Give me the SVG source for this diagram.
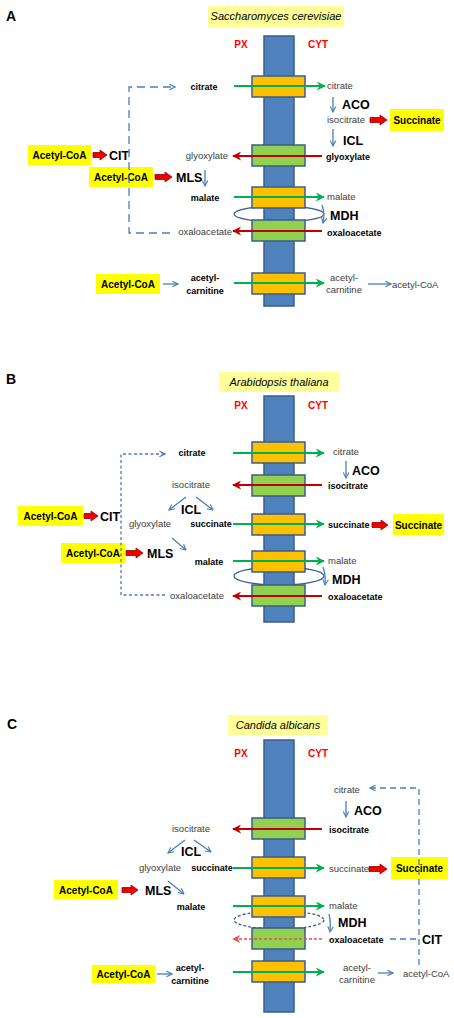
<svg xmlns="http://www.w3.org/2000/svg" width="454" height="1018" viewBox="0 0 454 1018">
<defs>
<style>
text{font-family:"Liberation Sans",Arial,sans-serif;}
.pl{font-size:14px;font-weight:bold;fill:#000;}
.ttl{font-size:11px;font-style:italic;fill:#000;text-anchor:middle;}
.tbox{fill:#FFFF99;}
.cmp{font-size:10px;font-weight:bold;fill:#FF0000;text-anchor:middle;}
.bar{fill:#4F81BD;stroke:#385D8A;stroke-width:1.5;}
.ob{fill:#FFC000;stroke:#385D8A;stroke-width:1.5;}
.gb{fill:#92D050;stroke:#385D8A;stroke-width:1.5;}
.n{font-size:9.5px;fill:#404040;}
.b{font-size:9px;font-weight:bold;fill:#000;}
.enz{font-size:12.5px;font-weight:bold;fill:#000;}
.ybox{fill:#FFFF00;}
.yt{font-size:10px;font-weight:bold;fill:#000;text-anchor:middle;}
.m{text-anchor:middle;}
.e{text-anchor:end;}
.ga{stroke:#00B050;stroke-width:2;fill:none;marker-end:url(#ag);}
.ra{stroke:#C00000;stroke-width:2;fill:none;marker-end:url(#ar);}
.rd{stroke:#E85050;stroke-width:1.5;fill:none;stroke-dasharray:3,2;marker-end:url(#ar2);}
.ba{stroke:#4A7EBB;stroke-width:1.3;fill:none;marker-end:url(#ab);}
.bl{stroke:#4A7EBB;stroke-width:1.3;fill:none;}
.blk{fill:#EE0000;stroke:#A00000;stroke-width:0.8;}
.ell{fill:none;stroke:#385D8A;stroke-width:1.3;}
</style>
<marker id="ag" viewBox="0 0 10 10" refX="9" refY="5" markerWidth="9" markerHeight="9" markerUnits="userSpaceOnUse" orient="auto"><path d="M0,0 L10,5 L0,10 L3,5 z" fill="#00B050"/></marker>
<marker id="ar" viewBox="0 0 10 10" refX="9" refY="5" markerWidth="9" markerHeight="9" markerUnits="userSpaceOnUse" orient="auto"><path d="M0,0 L10,5 L0,10 L3,5 z" fill="#C00000"/></marker>
<marker id="ar2" viewBox="0 0 10 10" refX="9" refY="5" markerWidth="8" markerHeight="8" markerUnits="userSpaceOnUse" orient="auto"><path d="M0,0 L10,5 L0,10 L3,5 z" fill="#E85050"/></marker>
<marker id="ab" viewBox="0 0 10 10" refX="9" refY="5" markerWidth="7" markerHeight="7" markerUnits="userSpaceOnUse" orient="auto"><path d="M1,1 L9,5 L1,9" fill="none" stroke="#4A7EBB" stroke-width="1.6"/></marker>
</defs>
<rect width="454" height="1018" fill="#fff"/>

<!-- ===================== PANEL A ===================== -->
<g id="panelA">
<text class="pl" x="6" y="21">A</text>
<g id="A-title"><rect class="tbox" x="208" y="6" width="136" height="21"/><text class="ttl" x="276" y="20">Saccharomyces cerevisiae</text></g>
<text class="cmp" x="241" y="48">PX</text>
<text class="cmp" x="318" y="48">CYT</text>
<ellipse class="ell" cx="279" cy="214" rx="45" ry="8"/>
<g id="A-membrane"><rect class="bar" x="264" y="36" width="30" height="270"/></g>
<g id="A-t1"><rect class="ob" x="252" y="76" width="53" height="21"/></g>
<g id="A-t2"><rect class="gb" x="252" y="145" width="53" height="21"/></g>
<g id="A-t3"><rect class="ob" x="252" y="187" width="53" height="21"/></g>
<g id="A-t4"><rect class="gb" x="252" y="220" width="53" height="21"/></g>
<g id="A-t5"><rect class="ob" x="252" y="273" width="53" height="21"/></g>

<g id="A-labels">
<text class="b m" x="204" y="90">citrate</text>
<text class="n" x="327" y="89">citrate</text>
<text class="enz" x="342" y="109">ACO</text>
<text class="n" x="327" y="123">isocitrate</text>
<g id="A-succ"><rect class="ybox" x="390" y="109" width="54" height="22"/><text class="yt" x="417" y="124">Succinate</text></g>
<text class="enz" x="343" y="145">ICL</text>
<text class="b" x="326" y="160">glyoxylate</text>
<text class="n e" x="228" y="159">glyoxylate</text>
<g id="A-acoa1"><rect class="ybox" x="28" y="145" width="63" height="20"/><text class="yt" x="59.5" y="159">Acetyl-CoA</text></g>
<text class="enz" x="109" y="160">CIT</text>
<g id="A-acoa2"><rect class="ybox" x="89" y="167" width="64" height="20"/><text class="yt" x="121" y="181">Acetyl-CoA</text></g>
<text class="enz" x="176" y="182">MLS</text>
<text class="b m" x="205" y="201">malate</text>
<text class="n" x="327" y="200">malate</text>
<text class="enz" x="330" y="220">MDH</text>
<text class="n e" x="232" y="235">oxaloacetate</text>
<text class="b" x="327" y="236">oxaloacetate</text>
<g id="A-acoa3"><rect class="ybox" x="96" y="274" width="64" height="20"/><text class="yt" x="128" y="288">Acetyl-CoA</text></g>
<text class="b m" x="205" y="281">acetyl-</text>
<text class="b m" x="205" y="294">carnitine</text>
<text class="n m" x="344" y="281">acetyl-</text>
<text class="n m" x="344" y="293">carnitine</text>
<text class="n" x="392" y="288">acetyl-CoA</text>
</g>

<g id="A-connectors">
<line class="ga" x1="234" y1="86" x2="325" y2="86"/>
<line class="ra" x1="322" y1="156" x2="233" y2="156"/>
<line class="ga" x1="234" y1="197" x2="324" y2="197"/>
<line class="ra" x1="322" y1="231" x2="233" y2="231"/>
<line class="ga" x1="234" y1="283" x2="324" y2="283"/>
<line class="ba" x1="333" y1="97" x2="333" y2="112"/>
<line class="ba" x1="333" y1="129" x2="333" y2="146"/>
<line class="ba" x1="205" y1="170" x2="205" y2="186"/>
<path class="ba" d="M322,205 Q325,213 323,223"/>
<line class="ba" x1="163" y1="284" x2="178" y2="284"/>
<line class="ba" x1="368" y1="284" x2="391" y2="284"/>
<path class="ba" d="M170,233 H129 V87 H175" stroke-dasharray="8,5"/>
<polygon class="blk" points="370,117.5 380,117.5 380,115 387,120 380,125 380,122.5 370,122.5"/>
<polygon class="blk" points="93,152.5 100,152.5 100,150 107,155 100,160 100,157.5 93,157.5"/>
<polygon class="blk" points="155,174.5 165,174.5 165,172 172,177 165,182 165,179.5 155,179.5"/>
</g>
</g>

<!-- ===================== PANEL B ===================== -->
<g id="panelB">
<text class="pl" x="6" y="384">B</text>
<g id="B-title"><rect class="tbox" x="219" y="372" width="120" height="20"/><text class="ttl" x="279" y="386">Arabidopsis thaliana</text></g>
<text class="cmp" x="241" y="409">PX</text>
<text class="cmp" x="318" y="409">CYT</text>
<ellipse class="ell" cx="279" cy="576" rx="45" ry="9"/>
<g id="B-membrane"><rect class="bar" x="264" y="396" width="30" height="226"/></g>
<g id="B-t1"><rect class="ob" x="252" y="442" width="53" height="21"/></g>
<g id="B-t2"><rect class="gb" x="252" y="475" width="53" height="21"/></g>
<g id="B-t3"><rect class="ob" x="252" y="514" width="53" height="21"/></g>
<g id="B-t4"><rect class="ob" x="252" y="551" width="53" height="21"/></g>
<g id="B-t5"><rect class="gb" x="252" y="585" width="53" height="21"/></g>

<g id="B-labels">
<text class="b m" x="192" y="456">citrate</text>
<text class="n" x="333" y="455">citrate</text>
<text class="enz" x="352" y="475">ACO</text>
<text class="b" x="328" y="489">isocitrate</text>
<text class="n m" x="191" y="488">isocitrate</text>
<text class="enz m" x="191" y="514">ICL</text>
<text class="n m" x="150" y="527">glyoxylate</text>
<text class="b m" x="211" y="527">succinate</text>
<text class="b" x="328" y="528">succinate</text>
<g id="B-succ"><rect class="ybox" x="393" y="514" width="51" height="21"/><text class="yt" x="418.5" y="529">Succinate</text></g>
<g id="B-acoa1"><rect class="ybox" x="18" y="506" width="65" height="20"/><text class="yt" x="50.5" y="520">Acetyl-CoA</text></g>
<text class="enz" x="100" y="521">CIT</text>
<g id="B-acoa2"><rect class="ybox" x="61" y="543" width="64" height="20"/><text class="yt" x="93" y="557">Acetyl-CoA</text></g>
<text class="enz" x="147" y="558">MLS</text>
<text class="b m" x="209" y="565">malate</text>
<text class="n" x="328" y="564">malate</text>
<text class="enz" x="332" y="584">MDH</text>
<text class="n m" x="197" y="599">oxaloacetate</text>
<text class="b" x="328" y="600">oxaloacetate</text>
</g>

<g id="B-connectors">
<line class="ga" x1="233" y1="453" x2="324" y2="453"/>
<line class="ra" x1="322" y1="485" x2="233" y2="485"/>
<line class="ga" x1="233" y1="524" x2="324" y2="524"/>
<line class="ga" x1="233" y1="561" x2="324" y2="561"/>
<line class="ra" x1="322" y1="596" x2="233" y2="596"/>
<line class="ba" x1="346" y1="461" x2="346" y2="478"/>
<line class="ba" x1="186" y1="497" x2="169" y2="510"/>
<line class="ba" x1="196" y1="497" x2="213" y2="510"/>
<line class="ba" x1="172" y1="538" x2="186" y2="550"/>
<path class="ba" d="M323,567 Q326,575 325,585"/>
<path class="ba" d="M165,595 H121 V454 H165" stroke-dasharray="3,2.5"/>
<polygon class="blk" points="372,522.5 381,522.5 381,520 388,525 381,530 381,527.5 372,527.5"/>
<polygon class="blk" points="84,513.5 91,513.5 91,511 98,516 91,521 91,518.5 84,518.5"/>
<polygon class="blk" points="126,550.5 136,550.5 136,548 143,553 136,558 136,555.5 126,555.5"/>
</g>
</g>

<!-- ===================== PANEL C ===================== -->
<g id="panelC">
<text class="pl" x="7" y="729">C</text>
<g id="C-title"><rect class="tbox" x="228" y="715" width="100" height="20"/><text class="ttl" x="278" y="729">Candida albicans</text></g>
<text class="cmp" x="241" y="757">PX</text>
<text class="cmp" x="318" y="757">CYT</text>
<ellipse class="ell" cx="279" cy="920" rx="45" ry="9" stroke-dasharray="3,2"/>
<g id="C-membrane"><rect class="bar" x="264" y="740" width="30" height="272"/></g>
<g id="C-t1"><rect class="gb" x="252" y="818" width="53" height="21"/></g>
<g id="C-t2"><rect class="ob" x="252" y="857" width="53" height="21"/></g>
<g id="C-t3"><rect class="ob" x="252" y="896" width="53" height="21"/></g>
<g id="C-t4"><rect class="gb" x="252" y="928" width="53" height="21"/></g>
<g id="C-t5"><rect class="ob" x="252" y="961" width="53" height="21"/></g>

<g id="C-labels">
<text class="n" x="334" y="793">citrate</text>
<text class="enz" x="354" y="815">ACO</text>
<text class="b" x="329" y="833">isocitrate</text>
<text class="n m" x="191" y="832">isocitrate</text>
<text class="enz m" x="191" y="856">ICL</text>
<text class="n m" x="160" y="871">glyoxylate</text>
<text class="b m" x="212" y="871">succinate</text>
<text class="n" x="329" y="872">succinate</text>
<g id="C-succ"><rect class="ybox" x="391" y="857" width="57" height="22"/><text class="yt" x="419.5" y="872">Succinate</text></g>
<g id="C-acoa1"><rect class="ybox" x="54" y="880" width="64" height="19"/><text class="yt" x="86" y="894">Acetyl-CoA</text></g>
<text class="enz" x="145" y="895">MLS</text>
<text class="b m" x="191" y="910">malate</text>
<text class="n" x="329" y="909">malate</text>
<text class="enz" x="338" y="927">MDH</text>
<text class="b" x="329" y="943">oxaloacetate</text>
<text class="enz" x="422" y="944">CIT</text>
<g id="C-acoa2"><rect class="ybox" x="92" y="965" width="63" height="18"/><text class="yt" x="123.5" y="978">Acetyl-CoA</text></g>
<text class="b m" x="190" y="971">acetyl-</text>
<text class="b m" x="190" y="984">carnitine</text>
<text class="n m" x="357" y="971">acetyl-</text>
<text class="n m" x="357" y="983">carnitine</text>
<text class="n" x="403" y="977">acetyl-CoA</text>
</g>

<g id="C-connectors">
<line class="ra" x1="322" y1="829" x2="233" y2="829"/>
<line class="ga" x1="233" y1="868" x2="324" y2="868"/>
<line class="ga" x1="233" y1="906" x2="324" y2="906"/>
<line class="rd" x1="322" y1="939" x2="233" y2="939"/>
<line class="ga" x1="233" y1="972" x2="324" y2="972"/>
<line class="ba" x1="346" y1="801" x2="346" y2="817"/>
<line class="ba" x1="185" y1="840" x2="168" y2="853"/>
<line class="ba" x1="194" y1="840" x2="211" y2="852"/>
<line class="ba" x1="168" y1="881" x2="184" y2="894"/>
<path class="ba" d="M329,914 Q331,922 330,932"/>
<line class="ba" x1="157" y1="974" x2="172" y2="974"/>
<line class="ba" x1="378" y1="973" x2="393" y2="973"/>
<path class="ba" d="M419,965 V788 H370" stroke-dasharray="6,4"/>
<path class="bl" d="M390,939 H419" stroke-dasharray="6,4"/>
<polygon class="blk" points="369,866.5 380,866.5 380,864 387,869 380,874 380,871.5 369,871.5"/>
<polygon class="blk" points="122,887.5 131,887.5 131,885 138,890 131,895 131,892.5 122,892.5"/>
</g>
</g>
</svg>
